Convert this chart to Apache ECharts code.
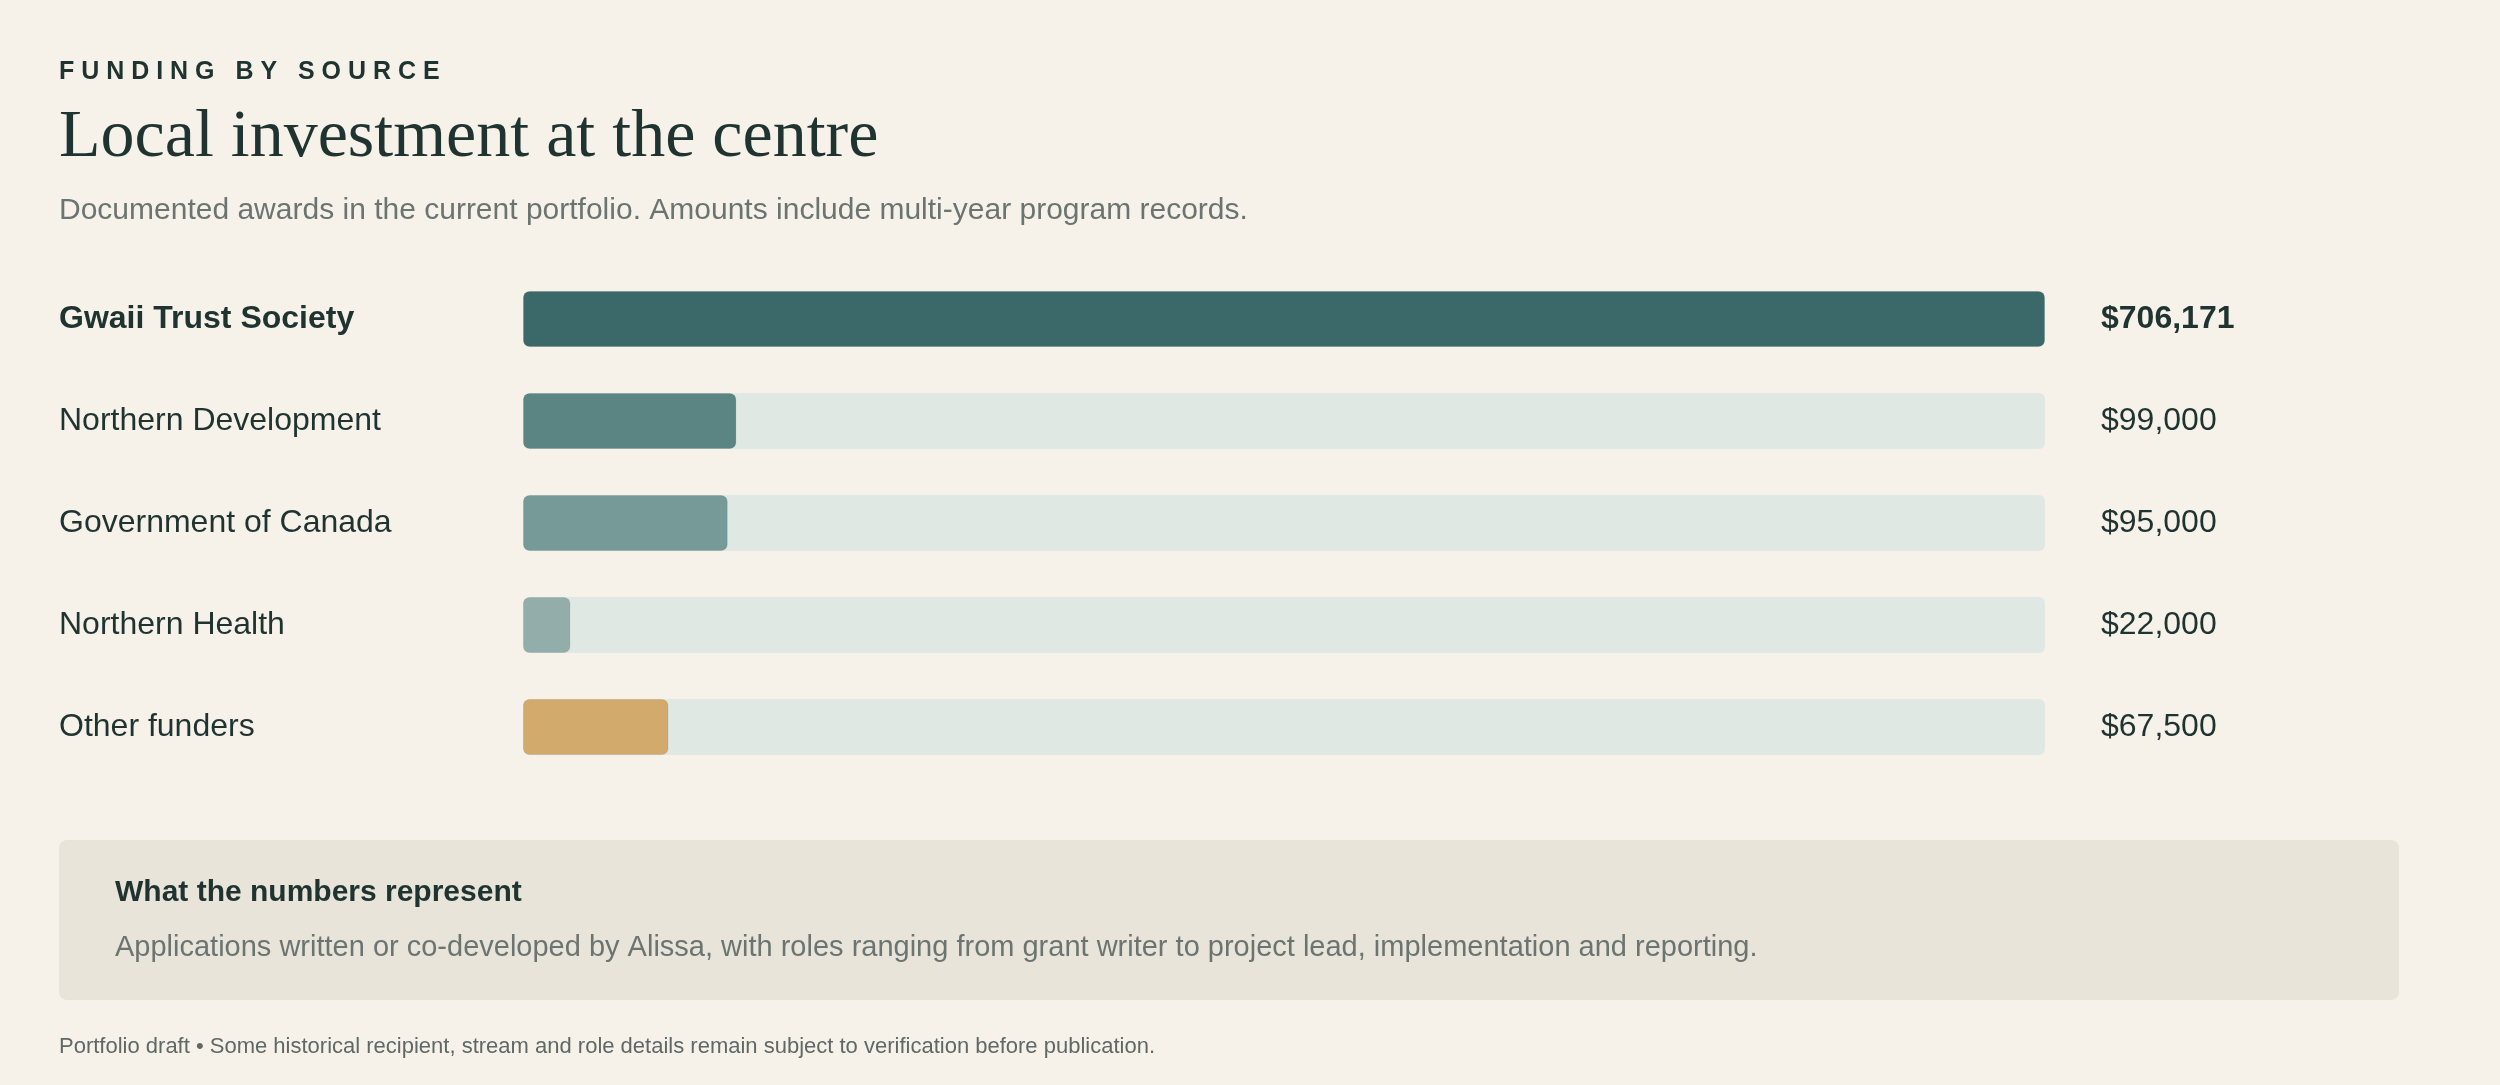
<!DOCTYPE html>
<html><head><meta charset="utf-8">
<script src="https://cdn.jsdelivr.net/npm/echarts@6/dist/echarts.min.js"></script>
<style>html,body{margin:0;padding:0;background:#f6f2ea}#c{width:2500px;height:1085px}</style>
</head><body><div id="c"></div>
<script>
var funders = ['Gwaii Trust Society', 'Northern Development', 'Government of Canada', 'Northern Health', 'Other funders'];
var amounts = [706171, 99000, 95000, 22000, 67500];
var barColors = ['#3b6869', '#5a8583', '#759a98', '#93adab', '#d1aa6c'];
var maxAmount = 706171;

var fmt = function (v) { return '$' + v.toLocaleString('en-US'); };
var sans = 'Helvetica, Arial, "Liberation Sans", sans-serif';

var chart = echarts.init(document.getElementById('c'));
chart.setOption({
    backgroundColor: '#f6f2ea',
    animation: false,
    grid: { left: 523, right: 455, top: 268, bottom: 307 },
    xAxis: { type: 'value', min: 0, max: maxAmount, show: false },
    yAxis: {
        type: 'category', data: funders, inverse: true,
        axisLine: { show: false }, axisTick: { show: false },
        axisLabel: {
            align: 'left', margin: 464, fontFamily: sans, fontSize: 32, color: '#1f3330',
            formatter: function (v, i) { return i === 0 ? '{b|' + v + '}' : v; },
            rich: { b: { fontWeight: 'bold', fontSize: 32, color: '#1f3330', fontFamily: sans } }
        }
    },
    series: [
        {
            type: 'bar', barWidth: 56, silent: true,
            data: amounts.map(function () { return maxAmount; }),
            itemStyle: { color: '#e0e8e4', borderRadius: 6 },
            label: {
                show: true, position: 'right', distance: 56, fontFamily: sans, fontSize: 32, color: '#1f3330',
                formatter: function (p) { return p.dataIndex === 0 ? '{b|' + fmt(amounts[0]) + '}' : fmt(amounts[p.dataIndex]); },
                rich: { b: { fontWeight: 'bold', fontSize: 32, color: '#1f3330', fontFamily: sans } }
            }
        },
        {
            type: 'bar', barWidth: 56, barGap: '-100%',
            data: amounts.map(function (v, i) {
                return { value: v, itemStyle: { color: barColors[i], borderRadius: 6, borderColor: 'rgba(0,0,0,0.08)', borderWidth: 1 } };
            })
        }
    ],
    graphic: [
        { type: 'text', left: 59, top: 60, style: { text: 'F U N D I N G   B Y   S O U R C E', font: 'bold 25px ' + sans, fill: '#1f3330' } },
        { type: 'text', left: 59, top: 104, style: { text: 'Local investment at the centre', font: '68px Georgia, "Liberation Serif", serif', fill: '#1f3330' } },
        { type: 'text', left: 59, top: 196, style: { text: 'Documented awards in the current portfolio. Amounts include multi-year program records.', font: '30px ' + sans, fill: '#6b7471' } },
        { type: 'rect', left: 59, top: 840, shape: { width: 2340, height: 160, r: 8 }, style: { fill: '#e8e4d9' } },
        { type: 'text', left: 115, top: 878, style: { text: 'What the numbers represent', font: 'bold 30px ' + sans, fill: '#1f3330' } },
        { type: 'text', left: 115, top: 933, style: { text: 'Applications written or co-developed by Alissa, with roles ranging from grant writer to project lead, implementation and reporting.', font: '29px ' + sans, fill: '#6b7471' } },
        { type: 'text', left: 59, top: 1036, style: { text: 'Portfolio draft \u2022 Some historical recipient, stream and role details remain subject to verification before publication.', font: '22px ' + sans, fill: '#5f6866' } }
    ]
});
</script>
</body></html>
